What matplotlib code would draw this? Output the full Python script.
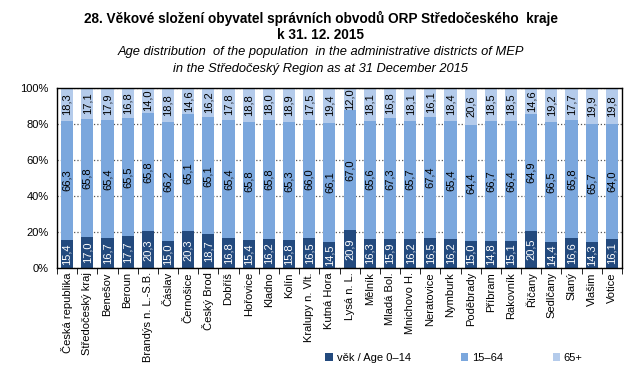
import matplotlib.pyplot as plt
import numpy as np

plt.rcParams['font.family'] = ['Liberation Sans', 'DejaVu Sans']

districts = ['Česká republika', 'Středočeský kraj', 'Benešov', 'Beroun', 'Brandýs n. L.-S.B.',
             'Čáslav', 'Černošice', 'Český Brod', 'Dobříš', 'Hořovice', 'Kladno', 'Kolín',
             'Kralupy n. Vlt.', 'Kutná Hora', 'Lysá n. L.', 'Mělník', 'Mladá Bol.', 'Mnichovo H.',
             'Neratovice', 'Nymburk', 'Poděbrady', 'Příbram', 'Rakovník', 'Říčany', 'Sedlčany',
             'Slaný', 'Vlašim', 'Votice']
age_0_14 = [15.4, 17.0, 16.7, 17.7, 20.3, 15.0, 20.3, 18.7, 16.8, 15.4, 16.2, 15.8, 16.5, 14.5,
            20.9, 16.3, 15.9, 16.2, 16.5, 16.2, 15.0, 14.8, 15.1, 20.5, 14.4, 16.6, 14.3, 16.1]
age_15_64 = [66.3, 65.8, 65.4, 65.5, 65.8, 66.2, 65.1, 65.1, 65.4, 65.8, 65.8, 65.3, 66.0, 66.1,
             67.0, 65.6, 67.3, 65.7, 67.4, 65.4, 64.4, 66.7, 66.4, 64.9, 66.5, 65.8, 65.7, 64.0]
age_65 = [18.3, 17.1, 17.9, 16.8, 14.0, 18.8, 14.6, 16.2, 17.8, 18.8, 18.0, 18.9, 17.5, 19.4,
          12.0, 18.1, 16.8, 18.1, 16.1, 18.4, 20.6, 18.5, 18.5, 14.6, 19.2, 17.7, 19.9, 19.8]
y_ticks = [0, 20, 40, 60, 80, 100]

colors = ['#234a7e', '#7ba7dd', '#b4cbeb']
series = [age_0_14, age_15_64, age_65]
names = ['věk / Age 0–14', '15–64', '65+']
text_colors = ['white', 'black', 'black']

fig = plt.figure(figsize=(6.41, 3.81), dpi=100)
ax = fig.add_axes([57 / 641, 1 - 268 / 381, 565 / 641, 180 / 381])

x = np.arange(len(districts))
bottom = np.zeros(len(districts))
handles = []
for vals, col, name, tc in zip(series, colors, names, text_colors):
    vals = np.array(vals)
    b = ax.bar(x, vals, 0.6, bottom=bottom, color=col, label=name, zorder=2)
    handles.append(b)
    for xi, v, bt in zip(x, vals, bottom):
        ax.text(xi, bt + v / 2, f'{v:.1f}'.replace('.', ','), rotation=90,
                ha='center', va='center', fontsize=8, color=tc, zorder=3)
    bottom += vals

ax.set_xlim(-0.5, len(districts) - 0.5)
ax.set_ylim(0, 100)
ax.set_yticks(y_ticks)
ax.set_yticklabels([f'{t}%' for t in y_ticks], fontsize=8)
ax.set_xticks(x)
ax.set_xticklabels(districts, rotation=90, fontsize=8)
ax.tick_params(axis='x', length=0, pad=3)
ax.set_xticks(np.arange(-0.5, len(districts)), minor=True)
ax.tick_params(axis='x', which='minor', length=4, direction='out')
ax.tick_params(axis='y', length=0, pad=6)
ax.yaxis.grid(True, linestyle=':', color='#555555', linewidth=0.9, zorder=0)
for s in ax.spines.values():
    s.set_linewidth(1.0)

fig.text(0.5, 1 - 18 / 381, '28. Věkové složení obyvatel správních obvodů ORP Středočeského  kraje',
         ha='center', va='center', fontsize=9.8, fontweight='bold')
fig.text(0.5, 1 - 35 / 381, 'k 31. 12. 2015', ha='center', va='center', fontsize=9.8, fontweight='bold')
fig.text(0.5, 1 - 52 / 381, 'Age distribution  of the population  in the administrative districts of MEP',
         ha='center', va='center', fontsize=9.3, style='italic')
fig.text(0.5, 1 - 69 / 381, 'in the Středočeský Region as at 31 December 2015',
         ha='center', va='center', fontsize=9.3, style='italic')

fig.legend(handles=handles, labels=names, loc='center', bbox_to_anchor=(454 / 641, 1 - 358 / 381),
           ncol=3, frameon=False, fontsize=8, handlelength=0.7, handleheight=0.7,
           columnspacing=4.5, handletextpad=0.3)

fig.savefig('out.png', dpi=100)
